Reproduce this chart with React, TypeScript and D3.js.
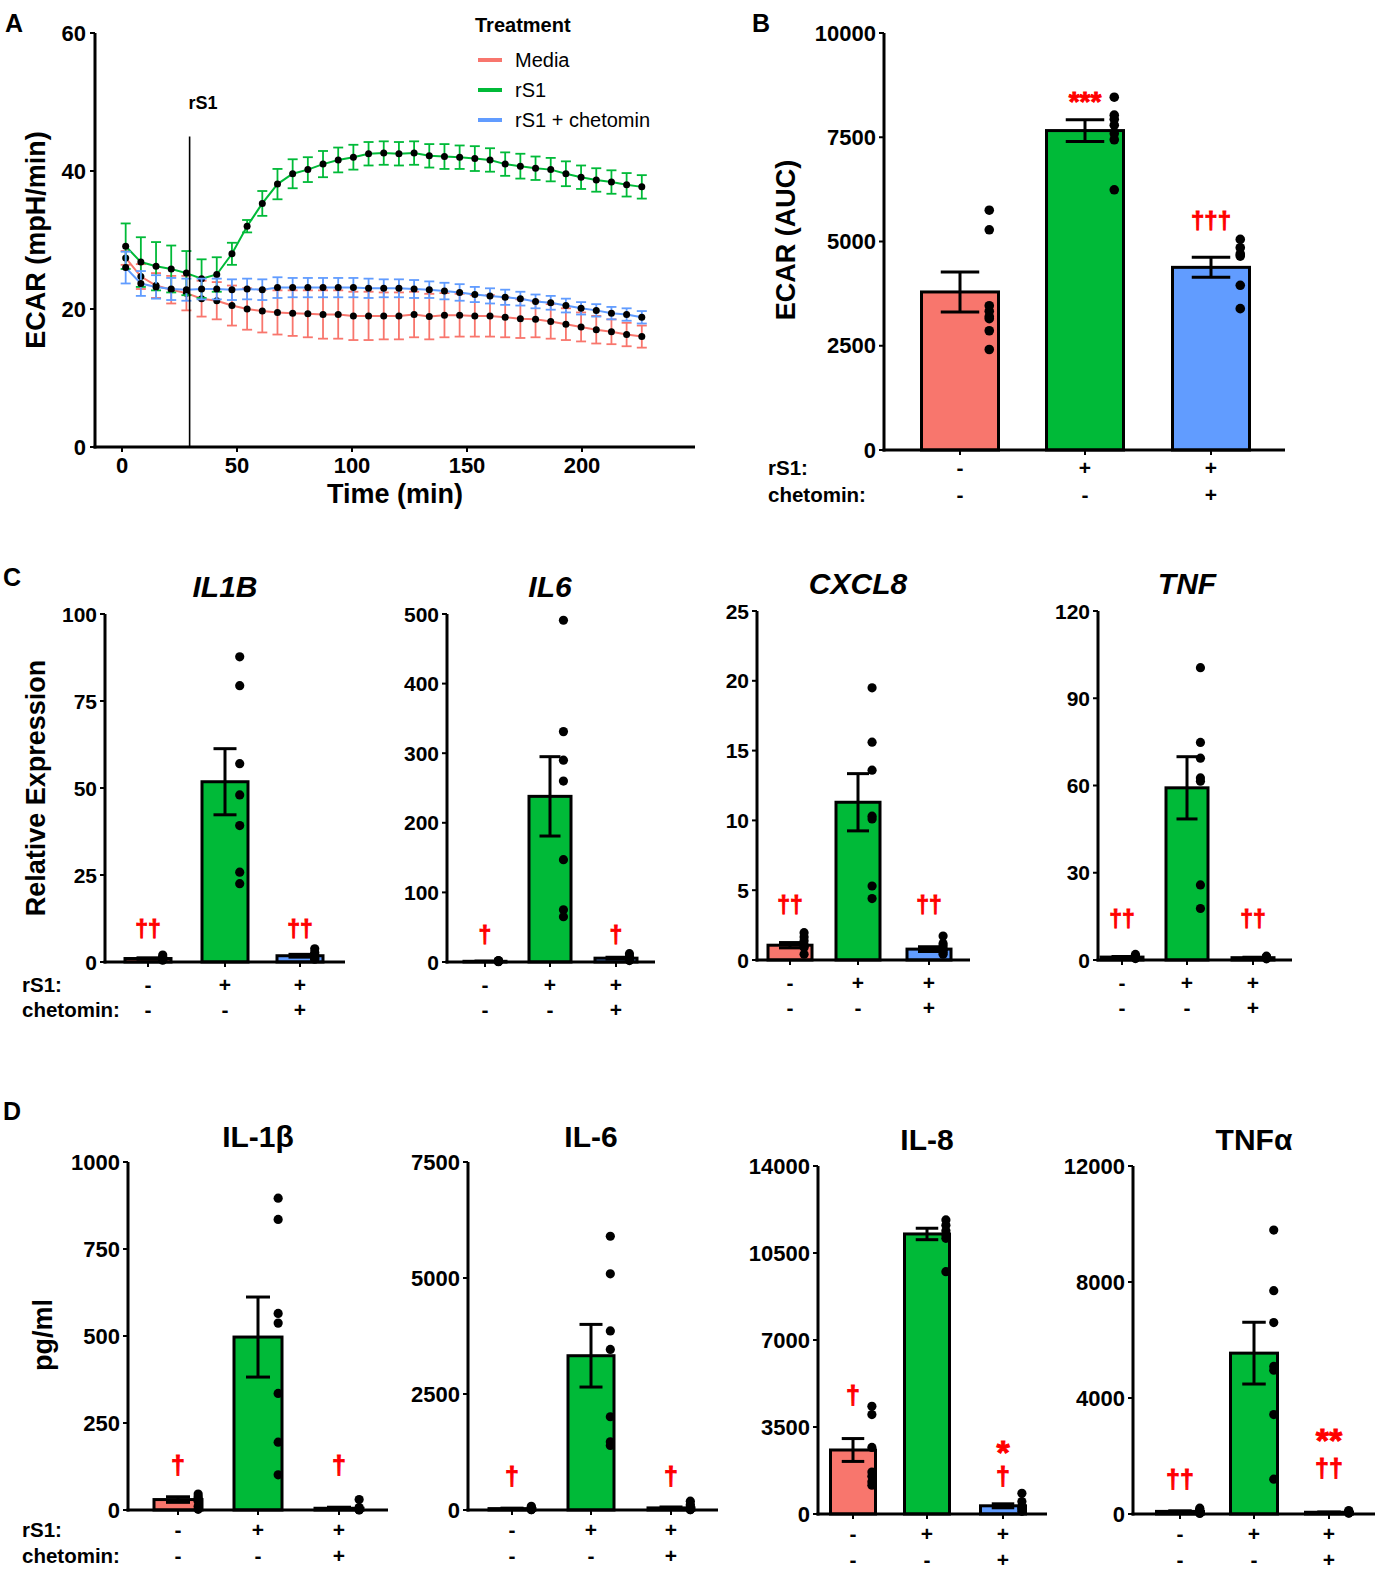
import * as d3 from 'd3';

const FONT = '"Liberation Sans", Arial, Helvetica, sans-serif';
const COLORS = ['#F8766D', '#00BA38', '#619CFF'];
const RED = '#FF0000';

// ---- panel A: ECAR time course ----
const A_TIME = [
  1.6, 8.2, 14.8, 21.4, 28, 34.6, 41.2, 47.8, 54.4, 61, 67.6, 74.2, 80.8, 87.4,
  94, 100.6, 107.2, 113.8, 120.4, 127, 133.6, 140.2, 146.8, 153.4, 160, 166.6,
  173.2, 179.8, 186.4, 193, 199.6, 206.2, 212.8, 219.4, 226,
];
const A_MEDIA = [
  27.4, 24.7, 23.4, 22.8, 22.3, 21.5, 21.2, 20.5, 20.0, 19.7, 19.5, 19.4, 19.3,
  19.2, 19.2, 19.0, 19.0, 19.0, 19.0, 19.2, 18.9, 19.1, 19.1, 19.0, 19.0, 18.8,
  18.6, 18.5, 18.2, 17.8, 17.4, 17.0, 16.7, 16.3, 16.0,
];
const A_MEDIA_SE = [
  1.0, 1.8, 1.8, 2.0, 2.5, 2.6, 2.7, 2.9, 3.0, 3.1, 3.2, 3.3, 3.4, 3.5, 3.5,
  3.5, 3.5, 3.4, 3.4, 3.3, 3.3, 3.2, 3.1, 3.0, 3.0, 2.9, 2.8, 2.6, 2.5, 2.3,
  2.1, 2.0, 1.8, 1.7, 1.6,
];
const A_RS1 = [
  29.1, 26.8, 26.2, 25.8, 25.2, 24.4, 25.0, 28.0, 32.0, 35.3, 38.1, 39.6, 40.2,
  41.0, 41.6, 42.0, 42.5, 42.6, 42.5, 42.6, 42.2, 42.1, 42.0, 41.8, 41.6, 41.0,
  40.7, 40.4, 40.2, 39.6, 39.1, 38.7, 38.4, 38.0, 37.7,
];
const A_RS1_SE = [
  3.3, 3.6, 3.5, 3.4, 3.2, 2.8, 2.5, 1.6, 0.9, 1.8, 2.2, 2.1, 1.8, 1.9, 1.8,
  1.8, 1.7, 1.7, 1.7, 1.7, 1.7, 1.8, 1.7, 1.8, 1.7, 1.7, 1.8, 1.7, 1.7, 1.8,
  1.7, 1.7, 1.7, 1.7, 1.7,
];
const A_CHET = [
  26.0, 23.7, 23.2, 22.9, 22.8, 22.9, 22.9, 22.8, 22.9, 22.8, 23.1, 23.1, 23.1,
  23.1, 23.1, 23.1, 23.0, 23.0, 23.0, 22.9, 22.8, 22.6, 22.4, 22.1, 21.9, 21.7,
  21.5, 21.1, 20.9, 20.5, 20.1, 19.8, 19.4, 19.2, 18.8,
];
const A_CHET_SE = [
  2.3, 1.8, 1.7, 1.6, 1.6, 1.5, 1.5, 1.5, 1.5, 1.5, 1.5, 1.4, 1.4, 1.4, 1.4,
  1.4, 1.4, 1.3, 1.3, 1.3, 1.2, 1.2, 1.2, 1.1, 1.1, 1.1, 1.0, 1.0, 1.0, 1.0,
  0.9, 0.9, 0.9, 0.9, 0.9,
];
const A_X_TICKS = [0, 50, 100, 150, 200];
const A_Y_TICKS = [0, 20, 40, 60];
const TREATMENTS = ['Media', 'rS1', 'rS1 + chetomin'];
const INJECTION_TIME = 29.4;

// ---- panel B: ECAR AUC ----
const B_MEANS = [3790, 7660, 4380];
const B_SE = [480, 260, 240];
const B_DOTS = [
  [5750, 5280, 3460, 3330, 3200, 3150, 2860, 2410],
  [8460, 8030, 7930, 7790, 7590, 7440, 6240],
  [5050, 4850, 4700, 4650, 3950, 3390],
];
const B_TICKS = [0, 2500, 5000, 7500, 10000];

// ---- panel C: relative expression ----
const C_TITLES = ['IL1B', 'IL6', 'CXCL8', 'TNF'];
const C_MAX = [100, 500, 25, 120];
const C_TICKS = [
  [0, 25, 50, 75, 100],
  [0, 100, 200, 300, 400, 500],
  [0, 5, 10, 15, 20, 25],
  [0, 30, 60, 90, 120],
];
const C_MEANS = [
  [1.0, 51.8, 1.8],
  [1.0, 238, 5.5],
  [1.06, 11.3, 0.78],
  [1.0, 59.2, 0.8],
];
const C_SE = [
  [0.2, 9.5, 0.4],
  [0.3, 57, 1.3],
  [0.19, 2.05, 0.17],
  [0.2, 10.7, 0.15],
];
const C_DOTS = [
  [
    [0.5, 0.7, 0.9, 1.0, 1.2, 1.4, 2.0],
    [87.7, 79.4, 57, 48, 39.2, 25.8, 22.5],
    [0.8, 1.0, 1.3, 1.6, 2.2, 2.8, 3.8],
  ],
  [
    [0.5, 0.7, 0.9, 1, 1.2, 1.5, 2],
    [491, 331, 290, 260, 147, 75, 65],
    [2, 3, 4, 5, 6, 8, 12],
  ],
  [
    [0.42, 0.9, 1.0, 1.1, 1.37, 1.65, 1.96],
    [19.5, 15.6, 13.6, 10.3, 10.1, 5.3, 4.4],
    [0.42, 0.55, 0.7, 0.78, 1.0, 1.18, 1.72],
  ],
  [
    [0.5, 0.7, 0.9, 1, 1.2, 1.4, 1.9],
    [100.5, 74.8, 69.4, 62.6, 61.5, 25.8, 17.7],
    [0.4, 0.6, 0.7, 0.8, 0.9, 1.0, 1.3],
  ],
];

// ---- panel D: cytokines pg/ml ----
const D_TITLES = ['IL-1β', 'IL-6', 'IL-8', 'TNFα'];
const D_MAX = [1000, 7500, 14000, 12000];
const D_TICKS = [
  [0, 250, 500, 750, 1000],
  [0, 2500, 5000, 7500],
  [0, 3500, 7000, 10500, 14000],
  [0, 4000, 8000, 12000],
];
const D_MEANS = [
  [30, 497, 5],
  [30, 3325, 45],
  [2575, 11266, 330],
  [90, 5547, 60],
];
const D_SE = [
  [8, 115, 3],
  [10, 675, 20],
  [460, 230, 80],
  [20, 1065, 10],
];
const D_DOTS = [
  [
    [46, 38, 32, 30, 25, 11, 2],
    [896, 835, 565, 537, 335, 195, 101],
    [30, 7, 4, 2, 2, 1, 0],
  ],
  [
    [80, 50, 30, 20, 15, 10, 5],
    [5900, 5090, 3860, 3460, 2010, 1470, 1390],
    [190, 120, 85, 30, 20, 10, 5],
  ],
  [
    [4330, 4000, 2680, 1690, 1520, 1300, 1160],
    [11830, 11620, 11400, 11230, 11090, 9750],
    [830, 500, 300, 240, 200, 106],
  ],
  [
    [200, 150, 100, 80, 60, 40, 20],
    [9790, 7700, 6600, 5090, 4960, 3430, 1200],
    [120, 90, 70, 60, 50, 40, 30],
  ],
];

const RS1_SIGNS = ['-', '+', '+'];
const CHET_SIGNS = ['-', '-', '+'];

// significance marks: per group, stacked lines (glyphs, value at baseline, size)
type Mark = { text: string; at: number; size?: number };
type Annot = { group: number; lines: Mark[] };

type BarPanelProps = {
  x0: number;
  xEnd: number;
  yTop: number;
  y0: number;
  max: number;
  ticks: number[];
  centers: number[];
  barW: number;
  means: number[];
  se: number[];
  dots: number[][];
  title?: string;
  italic?: boolean;
  titleY?: number;
  tickSize: number;
  dotR: number;
  dotShift: number;
  annots: Annot[];
  rowY: [number, number];
  rowLabelX?: number;
};

function BarPanel(p: BarPanelProps) {
  const y = d3.scaleLinear().domain([0, p.max]).range([p.y0, p.yTop]);
  const cap = p.barW / 4;
  return (
    <g>
      {p.title && (
        <text
          x={p.centers[1]}
          y={p.titleY}
          textAnchor="middle"
          fontSize={30}
          fontWeight="bold"
          fontStyle={p.italic ? 'italic' : 'normal'}
        >
          {p.title}
        </text>
      )}
      {p.means.map((m, i) => (
        <rect
          key={'b' + i}
          x={p.centers[i] - p.barW / 2}
          y={y(m)}
          width={p.barW}
          height={p.y0 - y(m)}
          fill={COLORS[i]}
          stroke="#000"
          strokeWidth={3}
        />
      ))}
      {p.means.map((m, i) => {
        const c = p.centers[i];
        const hi = y(m + p.se[i]);
        const lo = y(Math.max(0, m - p.se[i]));
        return (
          <g key={'e' + i} stroke="#000" strokeWidth={3}>
            <line x1={c} x2={c} y1={hi} y2={lo} />
            <line x1={c - cap} x2={c + cap} y1={hi} y2={hi} />
            <line x1={c - cap} x2={c + cap} y1={lo} y2={lo} />
          </g>
        );
      })}
      {p.dots.map((ds, i) =>
        ds.map((v, j) => (
          <circle
            key={'d' + i + '-' + j}
            cx={p.centers[i] + p.barW * p.dotShift}
            cy={y(v)}
            r={p.dotR}
            fill="#000"
          />
        ))
      )}
      {/* axes */}
      <line x1={p.x0} x2={p.x0} y1={p.yTop} y2={p.y0 + 1.5} stroke="#000" strokeWidth={3} />
      <line x1={p.x0 - 1.5} x2={p.xEnd} y1={p.y0} y2={p.y0} stroke="#000" strokeWidth={3} />
      {p.ticks.map((t) => (
        <g key={'t' + t}>
          <line x1={p.x0 - 5} x2={p.x0} y1={y(t)} y2={y(t)} stroke="#000" strokeWidth={2} />
          <text
            x={p.x0 - 8}
            y={y(t)}
            textAnchor="end"
            dominantBaseline="central"
            fontSize={p.tickSize}
            fontWeight="bold"
          >
            {t}
          </text>
        </g>
      ))}
      {p.centers.map((c, i) => (
        <g key={'s' + i}>
          <line x1={c} x2={c} y1={p.y0} y2={p.y0 + 5} stroke="#000" strokeWidth={2} />
          <text x={c} y={p.y0 + p.rowY[0]} textAnchor="middle" fontSize={21} fontWeight="bold">
            {RS1_SIGNS[i]}
          </text>
          <text x={c} y={p.y0 + p.rowY[1]} textAnchor="middle" fontSize={21} fontWeight="bold">
            {CHET_SIGNS[i]}
          </text>
        </g>
      ))}
      {p.rowLabelX !== undefined && (
        <g fontSize={20.5} fontWeight="bold">
          <text x={p.rowLabelX} y={p.y0 + p.rowY[0]}>
            rS1:
          </text>
          <text x={p.rowLabelX} y={p.y0 + p.rowY[1]}>
            chetomin:
          </text>
        </g>
      )}
      {p.annots.map((a, k) => (
        <text
          key={'a' + k}
          textAnchor="middle"
          fontWeight="bold"
          fill={RED}
          stroke={RED}
          strokeWidth={0.9}
        >
          {a.lines.map((m, j) => (
            <tspan key={j} x={p.centers[a.group]} y={y(m.at)} fontSize={m.size ?? 23}>
              {m.text}
            </tspan>
          ))}
        </text>
      ))}
    </g>
  );
}

function PanelA() {
  const x = d3.scaleLinear().domain([0, 200]).range([122, 582]);
  const y = d3.scaleLinear().domain([0, 60]).range([447, 33]);
  const series = [
    { v: A_MEDIA, se: A_MEDIA_SE },
    { v: A_RS1, se: A_RS1_SE },
    { v: A_CHET, se: A_CHET_SE },
  ];
  const line = d3
    .line<number>()
    .x((_, i) => x(A_TIME[i]))
    .y((d) => y(d));
  return (
    <g>
      {series.map((s, k) => (
        <g key={k}>
          {s.v.map((v, i) => {
            const cx = x(A_TIME[i]);
            const hi = y(v + s.se[i]);
            const lo = y(v - s.se[i]);
            return (
              <g key={i} stroke={COLORS[k]} strokeWidth={1.8}>
                <line x1={cx} x2={cx} y1={hi} y2={lo} />
                <line x1={cx - 5} x2={cx + 5} y1={hi} y2={hi} />
                <line x1={cx - 5} x2={cx + 5} y1={lo} y2={lo} />
              </g>
            );
          })}
          <path d={line(s.v) ?? ''} fill="none" stroke={COLORS[k]} strokeWidth={2} />
          {s.v.map((v, i) => (
            <circle key={i} cx={x(A_TIME[i])} cy={y(v)} r={3.5} fill="#000" />
          ))}
        </g>
      ))}
      <line
        x1={x(INJECTION_TIME)}
        x2={x(INJECTION_TIME)}
        y1={y(45)}
        y2={y(0)}
        stroke="#000"
        strokeWidth={1.6}
      />
      <text x={x(INJECTION_TIME) - 1} y={109} fontSize={18} fontWeight="bold">
        rS1
      </text>
      {/* axes */}
      <line x1={95} x2={95} y1={y(60)} y2={y(0) + 1.5} stroke="#000" strokeWidth={3} />
      <line x1={93.5} x2={695} y1={y(0)} y2={y(0)} stroke="#000" strokeWidth={3} />
      {A_Y_TICKS.map((t) => (
        <g key={t}>
          <line x1={90} x2={95} y1={y(t)} y2={y(t)} stroke="#000" strokeWidth={2} />
          <text x={86} y={y(t)} textAnchor="end" dominantBaseline="central" fontSize={22} fontWeight="bold">
            {t}
          </text>
        </g>
      ))}
      {A_X_TICKS.map((t) => (
        <g key={t}>
          <line x1={x(t)} x2={x(t)} y1={y(0)} y2={y(0) + 5} stroke="#000" strokeWidth={2} />
          <text x={x(t)} y={473} textAnchor="middle" fontSize={22} fontWeight="bold">
            {t}
          </text>
        </g>
      ))}
      <text x={395} y={503} textAnchor="middle" fontSize={27} fontWeight="bold">
        Time (min)
      </text>
      <text
        transform="translate(45,240) rotate(-90)"
        textAnchor="middle"
        fontSize={27}
        fontWeight="bold"
      >
        ECAR (mpH/min)
      </text>
      {/* legend */}
      <text x={475} y={32} fontSize={20} fontWeight="bold">
        Treatment
      </text>
      {TREATMENTS.map((t, i) => (
        <g key={t}>
          <line x1={478} x2={502} y1={60 + i * 30} y2={60 + i * 30} stroke={COLORS[i]} strokeWidth={4} />
          <text x={515} y={67 + i * 30} fontSize={20}>
            {t}
          </text>
        </g>
      ))}
    </g>
  );
}

const C_LAYOUT = [
  { x0: 105, xEnd: 345, yTop: 614, y0: 962, centers: [148, 225, 300], barW: 46 },
  { x0: 447, xEnd: 655, yTop: 614, y0: 962, centers: [485, 550, 616], barW: 42 },
  { x0: 757, xEnd: 970, yTop: 611, y0: 960, centers: [790, 858, 929], barW: 44 },
  { x0: 1098, xEnd: 1292, yTop: 611, y0: 960, centers: [1122, 1187, 1253], barW: 42 },
];
const C_TITLE_Y = [597, 597, 594, 594];
const C_ANNOTS: Annot[][] = [
  [
    { group: 0, lines: [{ text: '††', at: 7.2 }] },
    { group: 2, lines: [{ text: '††', at: 7.2 }] },
  ],
  [
    { group: 0, lines: [{ text: '†', at: 27 }] },
    { group: 2, lines: [{ text: '†', at: 27 }] },
  ],
  [
    { group: 0, lines: [{ text: '††', at: 3.4 }] },
    { group: 2, lines: [{ text: '††', at: 3.4 }] },
  ],
  [
    { group: 0, lines: [{ text: '††', at: 11.3 }] },
    { group: 2, lines: [{ text: '††', at: 11.3 }] },
  ],
];

const D_LAYOUT = [
  { x0: 128, xEnd: 388, yTop: 1162, y0: 1510, centers: [178, 258, 339], barW: 48 },
  { x0: 468, xEnd: 718, yTop: 1162, y0: 1510, centers: [512, 591, 671], barW: 46 },
  { x0: 818, xEnd: 1047, yTop: 1166, y0: 1514, centers: [853, 927, 1003], barW: 45 },
  { x0: 1133, xEnd: 1375, yTop: 1166, y0: 1514, centers: [1180, 1254, 1329], barW: 47 },
];
const D_TITLE_Y = [1147, 1147, 1150, 1150];
const D_ANNOTS: Annot[][] = [
  [
    { group: 0, lines: [{ text: '†', at: 103, size: 25 }] },
    { group: 2, lines: [{ text: '†', at: 103, size: 25 }] },
  ],
  [
    { group: 0, lines: [{ text: '†', at: 540, size: 25 }] },
    { group: 2, lines: [{ text: '†', at: 540, size: 25 }] },
  ],
  [
    { group: 0, lines: [{ text: '†', at: 4420, size: 25 }] },
    {
      group: 2,
      lines: [
        { text: '*', at: 2010, size: 34 },
        { text: '†', at: 1170, size: 25 },
      ],
    },
  ],
  [
    { group: 0, lines: [{ text: '††', at: 900, size: 25 }] },
    {
      group: 2,
      lines: [
        { text: '**', at: 2140, size: 34 },
        { text: '††', at: 1280, size: 25 },
      ],
    },
  ],
];

export default function App() {
  return (
    <svg
      width={1392}
      height={1587}
      viewBox="0 0 1392 1587"
      style={{ position: 'absolute', left: 0, top: 0, background: '#fff' }}
      fontFamily={FONT}
    >
      <rect width={1392} height={1587} fill="#fff" />
      <g fontSize={25} fontWeight="bold">
        <text x={5} y={32}>A</text>
        <text x={752} y={32}>B</text>
        <text x={3} y={586}>C</text>
        <text x={3} y={1120}>D</text>
      </g>

      <PanelA />

      <BarPanel
        x0={884}
        xEnd={1285}
        yTop={33}
        y0={450}
        max={10000}
        ticks={B_TICKS}
        centers={[960, 1085, 1211]}
        barW={77}
        means={B_MEANS}
        se={B_SE}
        dots={B_DOTS}
        tickSize={22}
        dotR={4.8}
        dotShift={0.38}
        annots={[
          { group: 1, lines: [{ text: '***', at: 8130, size: 28 }] },
          { group: 2, lines: [{ text: '†††', at: 5300, size: 24 }] },
        ]}
        rowY={[25, 52]}
        rowLabelX={768}
      />
      <text
        transform="translate(795,240) rotate(-90)"
        textAnchor="middle"
        fontSize={27}
        fontWeight="bold"
      >
        ECAR (AUC)
      </text>

      {C_LAYOUT.map((l, i) => (
        <BarPanel
          key={'c' + i}
          {...l}
          max={C_MAX[i]}
          ticks={C_TICKS[i]}
          means={C_MEANS[i]}
          se={C_SE[i]}
          dots={C_DOTS[i]}
          title={C_TITLES[i]}
          italic
          titleY={C_TITLE_Y[i]}
          tickSize={21}
          dotR={4.6}
          dotShift={0.32}
          annots={C_ANNOTS[i]}
          rowY={[30, 55]}
          rowLabelX={i === 0 ? 22 : undefined}
        />
      ))}
      <text
        transform="translate(45,788) rotate(-90)"
        textAnchor="middle"
        fontSize={27}
        fontWeight="bold"
      >
        Relative Expression
      </text>

      {D_LAYOUT.map((l, i) => (
        <BarPanel
          key={'d' + i}
          {...l}
          max={D_MAX[i]}
          ticks={D_TICKS[i]}
          means={D_MEANS[i]}
          se={D_SE[i]}
          dots={D_DOTS[i]}
          title={D_TITLES[i]}
          titleY={D_TITLE_Y[i]}
          tickSize={22}
          dotR={4.6}
          dotShift={0.42}
          annots={D_ANNOTS[i]}
          rowY={[27, 53]}
          rowLabelX={i === 0 ? 22 : undefined}
        />
      ))}
      <text
        transform="translate(52,1335) rotate(-90)"
        textAnchor="middle"
        fontSize={27}
        fontWeight="bold"
      >
        pg/ml
      </text>
    </svg>
  );
}
